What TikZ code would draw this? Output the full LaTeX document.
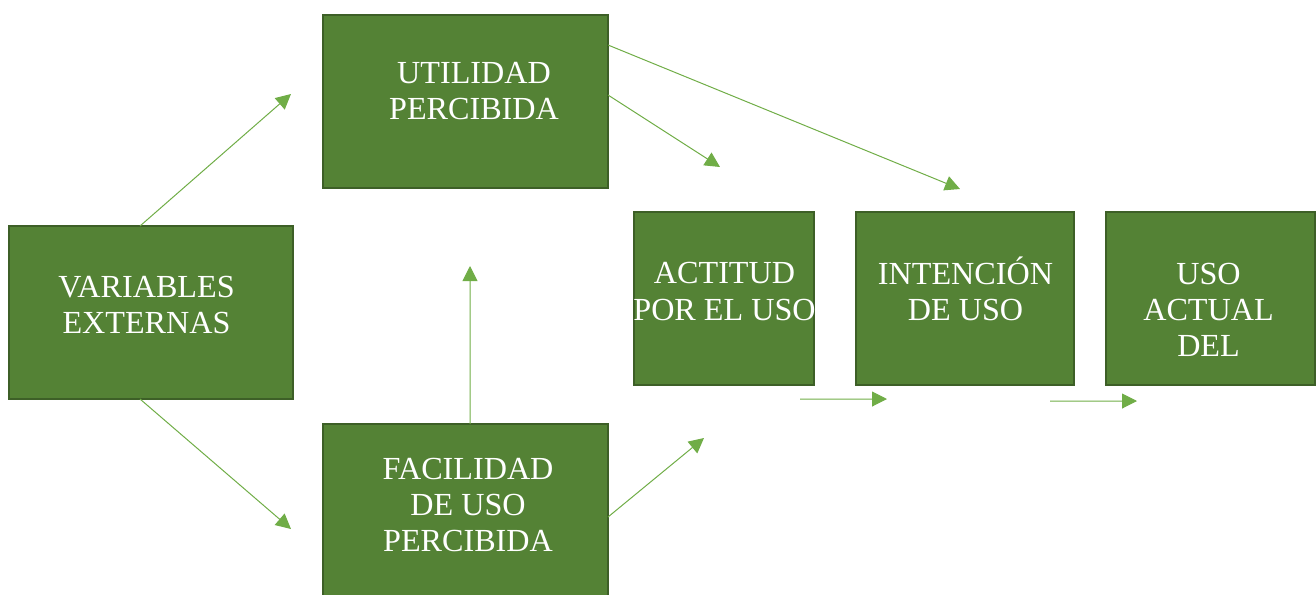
\documentclass[tikz,border=0pt]{standalone}
\usepackage{fontspec}
\setmainfont{Liberation Serif}
\usetikzlibrary{positioning, arrows.meta}
\definecolor{boxgreen}{HTML}{548235}
\definecolor{boxedge}{HTML}{3D5F27}
\definecolor{arrowgreen}{HTML}{70AD47}

\begin{document}
\begin{tikzpicture}
    [
        node distance=8.18cm and 4.82cm, on grid,
        green_box/.style={rectangle, draw=boxedge, fill=boxgreen, line width=0.04cm, minimum height=3.46cm, inner sep=0pt, outer sep=0pt},
        box_text/.style={align=center, text=white, font=\fontsize{18.3}{20.5}\selectfont, inner sep=0pt},
        green_arrow/.style={-{Triangle[length=0.3cm, width=0.3cm]}, line width=0.02cm, color=arrowgreen},
    ]
        \useasboundingbox (0,0) rectangle (26.32,-11.88);
        \node[green_box, minimum width=5.68cm] (ve) at (3.02,-6.25) {} ;
        \node[green_box, minimum width=5.70cm] (ut) at (9.31,-2.03) {} ;
        \node[green_box, minimum width=5.70cm] (fa) [below = of ut] {} ;
        \node[green_box, minimum width=3.60cm] (ac) at (14.48,-5.97) {} ;
        \node[green_box, minimum width=4.36cm] (in) [right = of ac] {} ;
        \node[green_box, minimum width=4.18cm] (us) [right = 4.91cm of in] {} ;
        \node[box_text] (ve-txt) at (2.93,-6.10) {VARIABLES\\EXTERNAS} ;
        \node[box_text] (ut-txt) at (9.48,-1.83) {UTILIDAD\\PERCIBIDA} ;
        \node[box_text] (fa-txt) at (9.36,-10.10) {FACILIDAD\\DE USO\\PERCIBIDA} ;
        \node[box_text] (ac-txt) at (14.49,-5.83) {ACTITUD\\POR EL USO} ;
        \node[box_text] (in-txt) at (19.31,-5.77) {INTENCIÓN\\DE USO} ;
        \node[box_text] (us-txt) at (24.17,-6.20) {USO\\ACTUAL\\DEL} ;
        \coordinate (to-ut) at (5.82,-1.88) ;
        \coordinate (to-fa) at (5.82,-10.58) ;
        \coordinate (to-up) at (9.40,-5.32) ;
        \coordinate (to-in) at (19.20,-3.78) ;
        \coordinate (to-ac) at (14.40,-3.34) ;
        \coordinate (to-ac2) at (14.08,-8.76) ;
        \coordinate (ac-out) at (17.74,-7.98) ;
        \coordinate (in-out) at (22.74,-8.02) ;
        \draw[green_arrow] ([xshift=-0.22cm]ve.north) -- (to-ut) ;
        \draw[green_arrow] ([xshift=-0.22cm]ve.south) -- (to-fa) ;
        \draw[green_arrow] ([xshift=0.09cm]fa.north) -- (to-up) ;
        \draw[green_arrow] ([yshift=-0.6cm]ut.north east) -- (to-in) ;
        \draw[green_arrow] ([yshift=-1.6cm]ut.north east) -- (to-ac) ;
        \draw[green_arrow] ([yshift=-1.86cm]fa.north east) -- (to-ac2) ;
        \draw[green_arrow] ([xshift=-0.28cm, yshift=-0.28cm]ac.south east) -- (ac-out) ;
        \draw[green_arrow] ([xshift=-0.48cm, yshift=-0.32cm]in.south east) -- (in-out) ;
    \end{tikzpicture}
\end{document}
